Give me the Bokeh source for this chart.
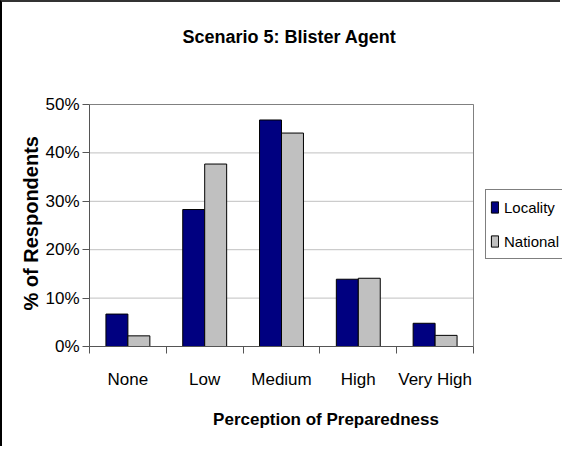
import numpy as np
from bokeh.plotting import figure
from bokeh.models import (Range1d, FixedTicker, CustomJSTickFormatter, Legend,
                          LegendItem, ColumnDataSource, Label, Title)
from bokeh.embed import file_html
from bokeh.resources import INLINE

# ---- data ----
categories = ["None", "Low", "Medium", "High", "Very High"]
locality = [6.7, 28.3, 46.8, 13.9, 4.8]
national = [2.2, 37.7, 44.1, 14.1, 2.3]
y_ticks = [0, 10, 20, 30, 40, 50]
series_names = ["Locality", "National"]
title_text = "Scenario 5: Blister Agent"
y_title = "% of Respondents"
x_title = "Perception of Preparedness"

FONT = "Liberation Sans"
BAR_W = 0.286
W, H = 560, 446
LEFT, BOTTOM = 87, 102
PLOT_PX = 384          # pixel width of the bar area
PLOT_PX_H = 242        # pixel height of the value area
n = len(categories)
x_end = n * (W - LEFT) / PLOT_PX                 # frame extends under the legend
y_end = y_ticks[-1] * (H - BOTTOM) / PLOT_PX_H   # frame extends under the title
px_y = y_ticks[-1] / PLOT_PX_H
px_x = n / PLOT_PX

idx = np.arange(n)
src = ColumnDataSource(dict(
    x_loc=idx + 0.5 - BAR_W / 2,
    x_nat=idx + 0.5 + BAR_W / 2,
    locality=locality,
    national=national,
))

p = figure(width=W, height=H, output_backend="svg", toolbar_location=None,
           title=None,
           x_range=Range1d(0, x_end), y_range=Range1d(y_ticks[0], y_end),
           min_border_left=LEFT, min_border_right=0, min_border_top=0,
           min_border_bottom=BOTTOM)

# grid lines and plot-area border (limited to the bar area)
p.segment(x0=[0] * len(y_ticks), x1=[n] * len(y_ticks), y0=y_ticks, y1=y_ticks,
          line_color="#C0C0C0", line_width=1)
p.line(x=[0, n, n], y=[y_ticks[-1], y_ticks[-1], y_ticks[0]],
       line_color="#808080", line_width=1)

r1 = p.vbar(x="x_loc", top="locality", width=BAR_W, source=src,
            fill_color="#000080", line_color="black", line_width=1)
r2 = p.vbar(x="x_nat", top="national", width=BAR_W, source=src,
            fill_color="#C0C0C0", line_color="black", line_width=1)

# chart title
p.add_layout(Label(x=n / 2 + 8 * px_x, y=y_end - 34 * px_y, text=title_text,
                   text_align="center", text_baseline="middle",
                   text_font=FONT, text_font_size="18px",
                   text_font_style="bold", text_color="black"))

# x axis: labels at category centres, ticks at boundaries
xa = p.xaxis[0]
xa.bounds = (0, n)
xa.ticker = FixedTicker(ticks=list(idx + 0.5), minor_ticks=list(range(n + 1)))
xa.formatter = CustomJSTickFormatter(args=dict(cats=categories),
                                     code="return cats[Math.floor(tick)] || '';")
xa.major_tick_out = 0
xa.major_tick_in = 0
xa.minor_tick_out = 7
xa.minor_tick_in = 0
xa.minor_tick_line_color = "#555555"
xa.axis_line_color = "#555555"
xa.major_label_standoff = 16
xa.major_label_text_font = FONT
xa.major_label_text_font_size = "17px"
xa.major_label_text_color = "black"
xa.axis_label = x_title
xa.axis_label_text_font = FONT
xa.axis_label_text_font_size = "17px"
xa.axis_label_text_font_style = "bold"
xa.axis_label_text_color = "black"
xa.axis_label_standoff = 18

ya = p.yaxis[0]
ya.bounds = (y_ticks[0], y_ticks[-1])
ya.ticker = FixedTicker(ticks=y_ticks)
ya.formatter = CustomJSTickFormatter(code="return tick.toFixed(0) + '%';")
ya.major_tick_out = 7
ya.major_tick_in = 0
ya.minor_tick_line_color = None
ya.major_tick_line_color = "#555555"
ya.axis_line_color = "#555555"
ya.major_label_standoff = 3
ya.major_label_text_font = FONT
ya.major_label_text_font_size = "17px"
ya.major_label_text_color = "black"
ya.axis_label = None

# y-axis title as a side title, aligned from the frame bottom so that it is
# centred on the 0-50% value area rather than the whole frame
p.add_layout(Title(text=y_title, align="left", offset=36, standoff=2,
                   text_font=FONT, text_font_size="20px",
                   text_font_style="bold", text_color="black"), "left")

p.xgrid.grid_line_color = None
p.ygrid.grid_line_color = None
p.outline_line_color = None
p.background_fill_color = "white"
p.border_fill_color = "white"

legend = Legend(items=[LegendItem(label=series_names[0], renderers=[r1]),
                       LegendItem(label=series_names[1], renderers=[r2])],
                location=(396, 87))
legend.label_text_font = FONT
legend.label_text_font_size = "15px"
legend.label_text_color = "black"
legend.glyph_width = 9
legend.glyph_height = 14
legend.label_height = 26
legend.spacing = 8
legend.padding = 4
legend.margin = 0
legend.label_standoff = 5
legend.border_line_color = "black"
legend.border_line_width = 1
legend.background_fill_color = "white"
p.add_layout(legend)

p.styles = {"border-left": "2px solid #000000", "border-top": "2px solid #333333"}

open("out.html", "w").write(file_html(p, INLINE))
